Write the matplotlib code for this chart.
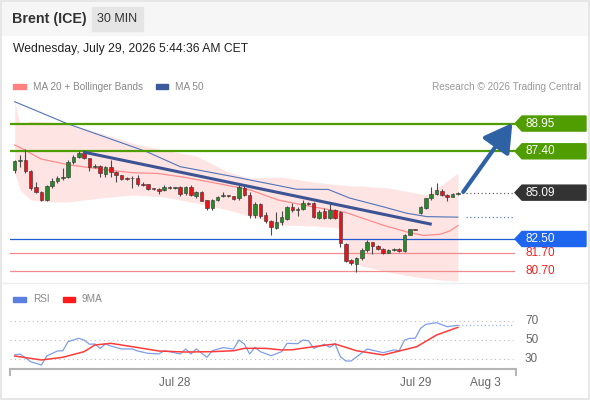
import matplotlib
matplotlib.use('Agg')
import matplotlib.pyplot as plt
from matplotlib.patches import Polygon, Rectangle
from matplotlib.lines import Line2D
import numpy as np

plt.rcParams['font.family'] = ['Liberation Sans', 'DejaVu Sans']

# 30 min candles (oldest first)
opens = [86.35, 86.86, 86.91, 86.30, 85.40, 85.13, 84.68, 85.46, 85.74, 85.91,
         85.95, 86.78, 87.10, 87.29, 87.03, 86.52, 86.60, 86.15, 86.52, 86.24,
         86.08, 85.90, 85.88, 85.91, 85.60, 85.57, 85.32, 85.32, 85.24, 85.42,
         85.35, 85.42, 85.05, 85.42, 84.90, 85.15, 84.68, 84.25, 84.68, 84.88,
         84.92, 84.88, 84.77, 85.35, 84.98, 83.84, 84.44, 83.84, 83.50, 83.13,
         83.47, 83.62, 84.27, 84.12, 84.16, 84.50, 84.50, 83.70, 84.05, 83.70,
         84.12, 84.02, 82.22, 81.30, 81.09, 81.42, 81.89, 82.32, 82.13, 81.94,
         81.73, 81.88, 81.94, 81.83, 82.72, 83.06, 83.97, 84.22, 84.77, 85.00,
         85.20, 84.96, 84.86, 85.00]
highs = [86.92, 87.20, 87.55, 86.35, 85.68, 85.20, 85.50, 85.90, 86.00, 86.47,
         86.90, 87.20, 87.42, 87.40, 87.05, 86.70, 86.63, 86.60, 86.91, 86.30,
         86.10, 85.95, 86.00, 86.10, 85.70, 85.60, 85.35, 85.35, 85.50, 85.45,
         85.38, 85.48, 85.48, 85.50, 85.20, 85.20, 84.70, 84.75, 84.90, 85.10,
         84.97, 84.90, 85.50, 85.45, 85.10, 84.55, 84.50, 84.00, 83.55, 84.00,
         84.05, 84.32, 84.50, 84.30, 84.70, 84.55, 84.55, 84.10, 84.25, 84.45,
         84.20, 84.05, 82.30, 81.40, 81.50, 82.00, 82.45, 82.36, 82.18, 81.97,
         81.92, 82.00, 82.00, 82.80, 83.08, 83.07, 84.33, 84.80, 85.42, 85.61,
         85.30, 85.00, 85.05, 85.10]
lows = [86.20, 86.50, 86.20, 85.25, 85.07, 84.62, 84.62, 85.35, 85.65, 85.80,
        85.90, 86.70, 87.00, 86.98, 86.30, 86.45, 85.95, 85.98, 85.95, 85.68,
        85.80, 85.80, 85.35, 85.45, 85.45, 85.25, 85.22, 85.00, 85.18, 85.30,
        85.32, 84.92, 84.98, 84.90, 84.80, 84.60, 84.12, 84.12, 84.62, 84.85,
        84.85, 84.70, 84.70, 84.90, 83.66, 83.70, 83.70, 83.40, 82.72, 83.05,
        83.30, 83.56, 84.00, 83.80, 84.10, 84.40, 83.70, 83.60, 83.60, 83.60,
        83.60, 82.08, 81.20, 81.05, 80.67, 81.35, 81.80, 81.65, 81.88, 81.66,
        81.70, 81.82, 81.78, 81.78, 82.70, 82.98, 83.90, 84.20, 84.70, 84.98,
        84.90, 84.63, 84.85, 84.98]
closes = [86.86, 86.92, 86.30, 85.35, 85.13, 84.68, 85.46, 85.74, 85.91, 85.96,
          86.78, 87.10, 87.29, 87.03, 86.52, 86.60, 86.19, 86.52, 86.24, 86.08,
          85.85, 85.85, 85.93, 85.57, 85.52, 85.29, 85.29, 85.18, 85.42, 85.33,
          85.36, 85.00, 85.42, 84.96, 85.15, 84.64, 84.25, 84.68, 84.86, 84.95,
          84.90, 84.75, 85.42, 84.98, 83.86, 84.44, 83.80, 83.50, 83.19, 83.47,
          83.75, 84.27, 84.12, 84.20, 84.50, 84.45, 83.75, 84.02, 83.70, 84.12,
          83.70, 82.26, 81.29, 81.14, 81.42, 81.89, 82.35, 82.13, 81.94, 81.70,
          81.88, 81.95, 81.83, 82.72, 83.06, 83.00, 84.27, 84.77, 85.00, 85.24,
          84.96, 84.86, 85.00, 85.09]

# indicator lines (candle index, value)
ma20_x = [0, 1.9, 4.9, 10.4, 17.5, 22.2, 26.8, 31.5, 37.9, 44.1, 49.3, 55.7,
          61.9, 68.9, 73.5, 76.5, 79.6, 81.5, 83]
ma20_y = [87.75, 87.47, 86.97, 86.63, 86.35, 86.20, 86.16, 85.96, 85.61, 85.24,
          84.68, 84.30, 83.99, 83.28, 82.89, 82.70, 82.76, 82.95, 83.25]
ma50_x = [0, 9.7, 24.7, 31, 40.3, 44, 52.8, 58.7, 62.7, 69, 73.4, 77.2, 83]
ma50_y = [90.17, 88.96, 87.38, 86.54, 86.02, 85.80, 85.28, 85.27, 84.79, 84.30,
          83.94, 83.75, 83.72]
band_x = [0, 1, 3, 6, 10, 16, 22, 28, 34, 40, 44, 50, 56, 61, 62, 63, 65, 70,
          74, 77, 80, 83]
band_up = [90.21, 88.87, 89.09, 89.04, 88.92, 88.42, 87.86, 87.47, 87.14, 86.24,
           85.91, 85.96, 85.68, 85.52, 85.50, 85.46, 85.46, 85.35, 85.13, 84.96,
           85.52, 86.19]
band_lo = [86.24, 85.24, 84.68, 84.57, 84.57, 84.79, 84.96, 84.85, 84.51, 84.12,
           83.78, 83.28, 83.23, 83.11, 81.89, 81.33, 80.99, 80.66, 80.43, 80.32,
           80.21, 80.15]

trend_x = [12.8, 78.1]
trend_y = [87.36, 83.32]
arrow_from = (84.0, 85.13)
arrow_to = (93.2, 88.98)

last_price = 85.09
resistances = [88.95, 87.40]
pivot = 82.50
supports = [81.70, 80.70]

rsi_x = [0, 1, 3, 5, 6, 8, 9, 10, 12, 13, 14, 15, 16, 17, 18, 20, 22, 23, 25,
         27, 28, 29, 31, 32, 33, 34, 36, 37, 39, 41, 42, 43, 44, 45, 46, 48, 50,
         51, 53, 54, 55, 56, 58, 59, 60, 61, 62, 63, 66, 69, 71, 72, 73, 74, 75,
         76, 77, 79, 81, 83]
rsi_y = [33.8, 34.9, 26.5, 23.0, 32.7, 38.1, 38.4, 48.2, 51.8, 50.0, 45.4, 45.7,
         41.0, 45.7, 43.5, 40.3, 40.3, 38.1, 35.6, 34.9, 38.4, 37.4, 34.9, 40.3,
         34.9, 40.3, 31.3, 38.4, 41.7, 40.3, 50.0, 45.7, 34.9, 42.1, 37.4, 33.0,
         37.4, 46.4, 46.0, 50.0, 49.2, 41.0, 45.4, 42.1, 45.7, 31.9, 27.3, 27.3,
         40.3, 36.3, 39.2, 38.4, 50.0, 51.8, 51.8, 62.6, 67.0, 68.7, 64.4, 65.9]
ma9_x = [0, 5, 9, 13, 15, 18, 22, 27, 32, 37, 41, 43, 47, 50, 52, 56, 60, 64,
         69, 72, 75.3, 79, 83]
ma9_y = [32.7, 28.4, 31.3, 37.4, 44.6, 46.4, 42.8, 38.1, 37.0, 37.4, 38.4, 41.0,
         41.0, 39.2, 39.5, 42.8, 45.7, 38.4, 33.8, 38.1, 42.8, 55.4, 63.7]
rsi_levels = [70, 50, 30]

date_ticks = [30.0, 75.0, 88.07]
date_labels = ['Jul 28', 'Jul 29', 'Aug 3']

W, H = 590, 400
fig = plt.figure(figsize=(5.9, 4.0), dpi=100)


def fx(x):
    return x / W


def fy(y):
    return 1 - y / H


# header strip and frame
fig.patches.append(Rectangle((0, fy(35)), 1, 35 / H, transform=fig.transFigure,
                             color='#f6f6f6', zorder=0))
fig.patches.append(Rectangle((fx(92), fy(31)), 51 / W, 24 / H, transform=fig.transFigure,
                             color='#e5e5e5', zorder=1))
fig.patches.append(Rectangle((0.001, 0.002), 0.997, 0.996, transform=fig.transFigure,
                             fill=False, edgecolor='#e3e3e3', lw=1.2, zorder=5))
fig.lines.append(Line2D([0, 1], [fy(283), fy(283)], transform=fig.transFigure,
                        color='#ececec', lw=1))

fig.text(fx(12), fy(19), 'Brent (ICE)', fontsize=10.3, fontweight='bold', color='#333333', va='center')
fig.text(fx(117.5), fy(19), '30 MIN', fontsize=9, color='#333333', va='center', ha='center')
fig.text(fx(13), fy(49), 'Wednesday, July 29, 2026 5:44:36 AM CET', fontsize=8.7,
         color='#222222', va='center')

# legends
fig.patches.append(Rectangle((fx(13), fy(88.5)), 13 / W, 4.5 / H, transform=fig.transFigure, color='#ff8080'))
fig.text(fx(33), fy(86.5), 'MA 20 + Bollinger Bands', fontsize=7.2, color='#888888', va='center')
fig.patches.append(Rectangle((fx(156), fy(88.5)), 12 / W, 4.5 / H, transform=fig.transFigure, color='#3b5a9c'))
fig.text(fx(175.5), fy(86.5), 'MA 50', fontsize=7.2, color='#888888', va='center')
fig.text(fx(581), fy(86.5), 'Research \u00a9 2026 Trading Central', fontsize=7.2,
         color='#999999', va='center', ha='right')

fig.patches.append(Rectangle((fx(13), fy(301.5)), 13 / W, 4.5 / H, transform=fig.transFigure, color='#5b7fe0'))
fig.text(fx(33), fy(299), 'RSI', fontsize=7.2, color='#888888', va='center')
fig.patches.append(Rectangle((fx(62.5), fy(301.5)), 12.5 / W, 4.5 / H, transform=fig.transFigure, color='#ff1a1a'))
fig.text(fx(81.5), fy(299), '9MA', fontsize=7.2, color='#888888', va='center')

# ---- price panel
ax = fig.add_axes([fx(10), fy(285), 505 / W, 190 / H])
xmin, xmax = -0.88, 93.69
ax.set_xlim(xmin, xmax)
ax.set_ylim(79.93, 90.545)
ax.axis('off')

ax.fill_between(band_x, band_lo, band_up, color='#ffe4e4', lw=0, zorder=1)
ax.plot(ma20_x, ma20_y, color='#ff8c8c', lw=0.9, zorder=2)
ax.plot(ma50_x, ma50_y, color='#4f74b8', lw=0.8, zorder=2)
ax.hlines(ma50_y[-1], 84.6, xmax, colors='#5a7ed0', linestyles=(0, (1, 2)), lw=0.9)

for r in resistances:
    ax.axhline(r, color='#4f9d00', lw=1.6, zorder=2)
ax.axhline(pivot, color='#1f5bd1', lw=0.9, zorder=2)
for s in supports:
    ax.axhline(s, color='#f28b8b', lw=0.9, zorder=2)
ax.hlines(last_price, 84.6, xmax, colors='#666666', linestyles=(0, (1, 2)), lw=0.9)

o = np.array(opens)
c = np.array(closes)
idx = np.arange(len(c))
cols = np.where(c >= o, '#27892a', '#e8141c')
ax.vlines(idx, lows, highs, color='#4a4a4a', lw=0.8, zorder=3)
ax.bar(idx, np.maximum(np.abs(c - o), 0.04), bottom=np.minimum(o, c), width=0.66,
       color=cols, edgecolor='#333333', linewidth=0.4, zorder=4)

ax.plot(trend_x, trend_y, color='#3d5494', lw=2.2, zorder=5, solid_capstyle='butt')
ax.annotate('', xy=arrow_to, xytext=arrow_from,
            arrowprops=dict(arrowstyle='-|>,head_length=0.95,head_width=0.55', lw=3.0,
                            color='#2f62a5', shrinkA=0, shrinkB=0, mutation_scale=18),
            zorder=6)

tr = ax.get_yaxis_transform()
hh = 0.42
x_tip, x_body, x_end = 1.0, 1 + 7 / 505, 1 + 71 / 505


def price_tag(price, color):
    pts = [(x_tip, price), (x_body, price + hh), (x_end, price + hh),
           (x_end, price - hh), (x_body, price - hh)]
    ax.add_patch(Polygon(pts, closed=True, transform=tr, color=color, clip_on=False, zorder=6))
    ax.text(1 + 10 / 505, price, f'{price:.2f}', transform=tr, color='white', fontsize=8.5,
            va='center', ha='left', clip_on=False, zorder=7)


for r in resistances:
    price_tag(r, '#4f9d00')
price_tag(last_price, '#333333')
price_tag(pivot, '#1e66f0')
for s in supports:
    ax.text(1 + 10 / 505, s, f'{s:.2f}', transform=tr, color='#ee2222', fontsize=8.5,
            va='center', ha='left', clip_on=False)

# ---- RSI panel
rax = fig.add_axes([fx(10), fy(369), 505 / W, 69 / H])
rax.set_xlim(xmin, xmax)
rax.set_ylim(18.65, 93.24)
for side in ['top', 'left', 'right']:
    rax.spines[side].set_visible(False)
rax.spines['bottom'].set_color('#b5b5b5')
rax.spines['bottom'].set_linewidth(1.5)
rax.plot([0, 0], [0, -0.08], transform=rax.transAxes, color='#b5b5b5', lw=1.5, clip_on=False)
rax.plot([1.002, 1.002], [0, -0.08], transform=rax.transAxes, color='#b5b5b5', lw=1.5, clip_on=False)
rax.hlines(rsi_levels, xmin, 93.3, colors='#bbbbbb', linestyles=(0, (1, 3)), lw=0.8)
rax.plot(rsi_x, rsi_y, color='#7f9ee9', lw=0.9)
rax.plot(ma9_x, ma9_y, color='#ff3b3b', lw=1.1)
rax.hlines(rsi_y[-1], rsi_x[-1], 93.3, colors='#9fb5ee', linestyles=(0, (1, 2)), lw=0.9)
rtr = rax.get_yaxis_transform()
for lv in rsi_levels:
    rax.text(1 + 10 / 505, lv, str(lv), transform=rtr, color='#666666', fontsize=8.5,
             va='center', ha='left', clip_on=False)
rax.set_yticks([])
rax.set_xticks(date_ticks)
rax.set_xticklabels(date_labels)
rax.tick_params(axis='x', length=0, pad=6, labelsize=8.5, labelcolor='#666666')

fig.savefig('out.png', dpi=100)
